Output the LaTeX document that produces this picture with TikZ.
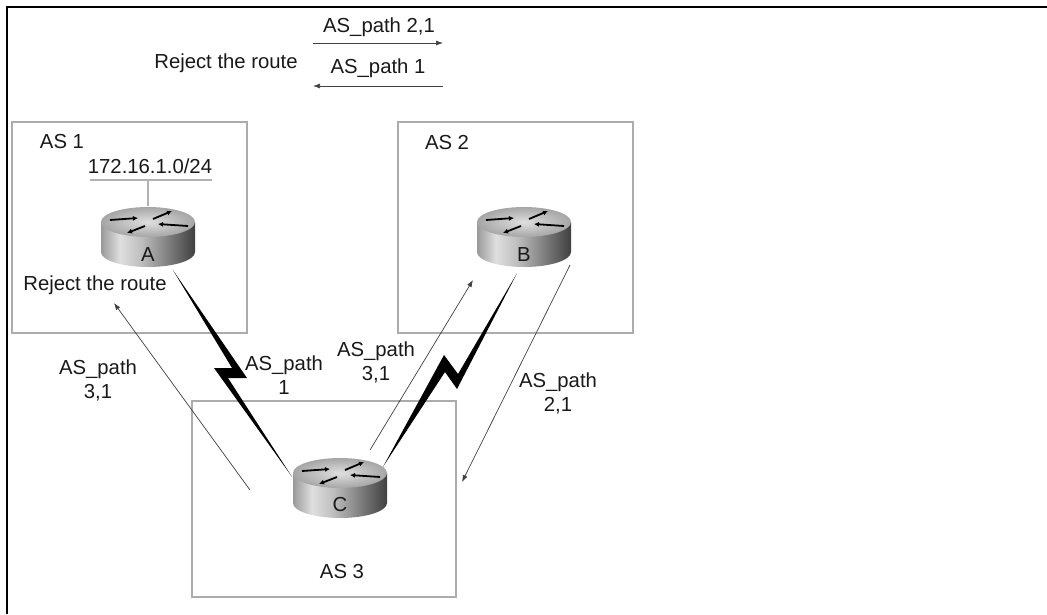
\documentclass[tikz,border=0pt]{standalone}
\usepackage{fontspec}
\setmainfont{Liberation Sans}
\usetikzlibrary{arrows.meta,calc,positioning}
\pgfdeclarehorizontalshading{routerbody}{100bp}{color(0bp)=(gray!80); color(25bp)=(gray!80); color(35bp)=(gray!25); color(46bp)=(gray!50); color(75bp)=(black!75); color(100bp)=(black!75)}

\begin{document}
\begin{tikzpicture}[x=1pt,y=-1pt,>={Latex[length=7pt,width=5pt]},
    font=\fontsize{20.3}{24}\selectfont,
    box/.style={draw=gray!65,line width=1.4pt},
    lan/.style={draw=gray!60,line width=1.6pt},
    msg/.style={->,draw=black!75,line width=0.7pt},
    bolt/.style={fill=black},
    lbl/.style={inner sep=1pt,align=center,text=black!90},
    ricon/.style={line width=1.8pt,-{Latex[length=5pt,width=5pt]}},
    router/.style={minimum width=96pt,minimum height=62pt,inner sep=0pt,path picture={
        \begin{scope}[shift={(path picture bounding box.center)}]
            \shade[shading=routerbody] (-47pt,15pt) -- (-47pt,-15pt) arc[start angle=180,end angle=360,x radius=47pt,y radius=15pt] -- (47pt,15pt) -- cycle;
            \shade[inner color=gray!25,outer color=gray!70] (0pt,15pt) ellipse[x radius=47pt,y radius=15pt];
            \draw[ricon] (-38pt,17pt) -- (-10pt,19pt);
            \draw[ricon] (5pt,18pt) -- (24pt,26pt);
            \draw[ricon] (40pt,11pt) -- (10pt,13pt);
            \draw[ricon] (-3pt,11pt) -- (-21pt,4pt);
        \end{scope}}}]

    \useasboundingbox (0,0) rectangle (1047,614);
    \draw[line width=2.5pt] (7,614) -- (7,7) -- (1047,7);

    \draw[box] (12,122) rectangle (247,333);
    \draw[box] (398,122) rectangle (633,333);
    \draw[box] (192,401) rectangle (456,597);

    \node[router] (A) at (148,237) {};
    \node[router] (B) at (524,237) {};
    \node[router] (C) at (340,488) {};
    \node[lbl] (la) at ([yshift=-18pt]A.center) {A};
    \node[lbl] (lb) at ([yshift=-18pt]B.center) {B};
    \node[lbl] (lc) at ([yshift=-17pt]C.center) {C};

    \node[lbl] (as1) at (62,142) {AS 1};
    \node[lbl] (as2) at (447,143) {AS 2};
    \node[lbl] (as3) at (342,572) {AS 3};
    \node[lbl] (net) at (150,166) {172.16.1.0/24};
    \coordinate (lan1) at (90,180);
    \coordinate (lan2) at (212,180);
    \draw[lan] (lan1) -- (lan2);
    \draw[lan] (A.north |- lan1) -- (A.north);

    \node[lbl] (rej1) at (95,285) {Reject the route};
    \node[lbl] (rej0) at (226,63) {Reject the route};
    \node[lbl] (p21) at (379,27) {AS\_path 2,1};
    \node[lbl] (p1) at (378,68) {AS\_path 1};
    \node[lbl] (q31) at (98,380) {AS\_path\\3,1};
    \node[lbl] (q1) at (284,375) {AS\_path\\1};
    \node[lbl] (r31) at (376,362) {AS\_path\\3,1};
    \node[lbl] (r21) at (558,393) {AS\_path\\2,1};

    \coordinate (t1) at (313,43);
    \coordinate (t2) at (443,43);
    \coordinate (t3) at (443,86);
    \coordinate (t4) at (313,86);
    \draw[msg] (t1) -- (t2);
    \draw[msg] (t3) -- (t4);

    \coordinate (c1) at (250,490);
    \coordinate (a1) at (114,303);
    \coordinate (c2) at (370,450);
    \coordinate (b1) at (473,280);
    \coordinate (b2) at (570,265);
    \coordinate (c3) at (462,482);
    \draw[msg] (c1) -- (a1);
    \draw[msg] (c2) -- (b1);
    \draw[msg] (b2) -- (c3);

    \coordinate (ac) at ($(A.south)+(25,2)$);
    \coordinate (ca) at ($(C.north)+(-48,20)$);
    \coordinate (bc) at ($(B.south)+(-7,5)$);
    \coordinate (cb) at ($(C.north)+(43,10)$);
    \fill[bolt] (ac) -- ($(ac)!.5!(ca)+(14.5,4.5)$) -- ($(ac)!.5!(ca)+(-4.5,4.5)$) -- (ca)
        -- ($(ac)!.5!(ca)+(-18.5,-5.5)$) -- ($(ac)!.5!(ca)+(-0.5,-5.5)$) -- cycle;
    \fill[bolt] (bc) -- ($(bc)!.5!(cb)+(7,19)$) -- ($(bc)!.5!(cb)+(-5,2)$) -- (cb)
        -- ($(bc)!.5!(cb)+(-6,-15)$) -- ($(bc)!.5!(cb)+(8,4)$) -- cycle;

\end{tikzpicture}
\end{document}
